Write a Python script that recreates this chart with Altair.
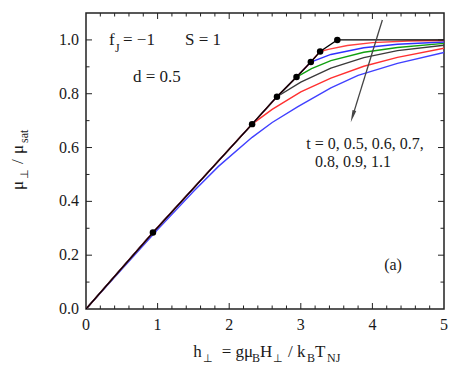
import altair as alt
import pandas as pd

FONT = "Liberation Serif"
INK = "#1a1a1a"

# ---- data ----
# critical points (black dots)
dot_h = [0.935, 2.32, 2.667, 2.94, 3.14, 3.27, 3.51]
dot_mu = [0.284, 0.687, 0.789, 0.862, 0.918, 0.957, 1.0]

# t = 0 curve: through the dots, then saturated
t0_h = [0.0, 0.935, 2.32, 2.667, 2.94, 3.14, 3.27, 3.51, 5.0]
t0_mu = [0.0, 0.284, 0.687, 0.789, 0.862, 0.918, 0.957, 1.0, 1.0]

t05_h = [0.0, 0.935, 2.32, 2.667, 2.94, 3.14, 3.27, 3.4, 3.65, 4.0, 4.5, 5.0]
t05_mu = [0.0, 0.284, 0.687, 0.789, 0.862, 0.918, 0.957, 0.966, 0.979, 0.990, 0.996, 0.998]

t06_h = [0.0, 0.935, 2.32, 2.667, 2.94, 3.14, 3.42, 3.88, 4.35, 5.0]
t06_mu = [0.0, 0.284, 0.687, 0.789, 0.862, 0.918, 0.946, 0.971, 0.984, 0.992]

t07_h = [0.0, 0.935, 2.32, 2.667, 2.94, 3.15, 3.42, 3.88, 4.35, 5.0]
t07_mu = [0.0, 0.284, 0.687, 0.789, 0.862, 0.893, 0.923, 0.954, 0.972, 0.987]

t08_h = [0.0, 0.935, 2.32, 2.667, 3.0, 3.42, 3.88, 4.35, 5.0]
t08_mu = [0.0, 0.284, 0.687, 0.789, 0.843, 0.895, 0.934, 0.960, 0.980]

t09_h = [0.0, 0.935, 2.32, 2.6, 3.0, 3.42, 3.88, 4.35, 5.0]
t09_mu = [0.0, 0.284, 0.687, 0.742, 0.807, 0.858, 0.902, 0.935, 0.969]

t11_h = [0.0, 1.0, 1.5, 1.85, 2.32, 2.6, 2.96, 3.42, 3.8, 4.35, 5.0]
t11_mu = [0.0, 0.295, 0.437, 0.530, 0.638, 0.693, 0.752, 0.822, 0.868, 0.913, 0.953]

curve_names = ["1.1", "0.9", "0.8", "0.7", "0.6", "0.5", "0"]
curve_h = [t11_h, t09_h, t08_h, t07_h, t06_h, t05_h, t0_h]
curve_mu = [t11_mu, t09_mu, t08_mu, t07_mu, t06_mu, t05_mu, t0_mu]
curve_colors = ["#4040ff", "#ff3030", "#3a3a3a", "#10a010", "#3030ff", "#ff4040", "#000000"]

# arrow
arrow_h = [4.139, 3.723]
arrow_mu = [1.074, 0.716]
head_h = [3.723]
head_mu = [0.716]

# axis ticks and labels
x_labels = [0, 1, 2, 3, 4, 5]
x_label_text = ["0", "1", "2", "3", "4", "5"]
y_labels = [0.0, 0.2, 0.4, 0.6, 0.8, 1.0]
y_label_text = ["0.0", "0.2", "0.4", "0.6", "0.8", "1.0"]
x_major = [1, 2, 3, 4]
x_minor = [0.2, 0.4, 0.6, 0.8, 1.2, 1.4, 1.6, 1.8, 2.2, 2.4, 2.6, 2.8,
           3.2, 3.4, 3.6, 3.8, 4.2, 4.4, 4.6, 4.8]
y_major = [0.2, 0.4, 0.6, 0.8, 1.0]
y_minor = [0.1, 0.3, 0.5, 0.7, 0.9]

W, H = 358, 296
xs = alt.Scale(domain=[0, 5], nice=False, zero=False)
ys = alt.Scale(domain=[0, 1.1], nice=False, zero=False)


def X(field="h"):
    return alt.X(f"{field}:Q", scale=xs, axis=None)


def Y(field="mu"):
    return alt.Y(f"{field}:Q", scale=ys, axis=None)


layers = []

# curves
for name, hh, mm, col in zip(curve_names, curve_h, curve_mu, curve_colors):
    df = pd.DataFrame({"h": hh, "mu": mm, "i": range(len(hh))})
    sw = 1.4 if name != "0" else 1.3
    layers.append(
        alt.Chart(df).mark_line(color=col, strokeWidth=sw, clip=True).encode(
            x=X(), y=Y(), order="i:Q")
    )

# dots
dots_df = pd.DataFrame({"h": dot_h, "mu": dot_mu})
layers.append(alt.Chart(dots_df).mark_circle(size=42, color="#000000", opacity=1).encode(x=X(), y=Y()))

# arrow
arr_df = pd.DataFrame({"h": arrow_h, "mu": arrow_mu, "i": [0, 1]})
layers.append(alt.Chart(arr_df).mark_line(color="#444444", strokeWidth=1.3).encode(x=X(), y=Y(), order="i:Q"))
head_df = pd.DataFrame({"h": head_h, "mu": head_mu})
layers.append(alt.Chart(head_df).mark_point(
    shape="M0,-1L0.32,1L-0.32,1Z", size=150, filled=True, color="#444444",
    opacity=1, angle=197.4).encode(x=X(), y=Y()))

# ticks (inward, on all four sides)
tick_col = "#222222"
xmaj = pd.DataFrame({"h": x_major})
xmin = pd.DataFrame({"h": x_minor})
ymaj = pd.DataFrame({"mu": y_major})
ymin = pd.DataFrame({"mu": y_minor})
for df, ln in ((xmaj, 6), (xmin, 3.5)):
    layers.append(alt.Chart(df).mark_rule(color=tick_col, strokeWidth=1).encode(
        x=X(), y=alt.value(H), y2=alt.value(H - ln)))
    layers.append(alt.Chart(df).mark_rule(color=tick_col, strokeWidth=1).encode(
        x=X(), y=alt.value(0), y2=alt.value(ln)))
for df, ln in ((ymaj, 6), (ymin, 3.5)):
    layers.append(alt.Chart(df).mark_rule(color=tick_col, strokeWidth=1).encode(
        y=Y(), x=alt.value(0), x2=alt.value(ln)))
    layers.append(alt.Chart(df).mark_rule(color=tick_col, strokeWidth=1).encode(
        y=Y(), x=alt.value(W), x2=alt.value(W - ln)))

# tick labels
xl_df = pd.DataFrame({"h": x_labels, "s": x_label_text})
layers.append(alt.Chart(xl_df).mark_text(
    font=FONT, fontSize=16, color=INK, align="center", baseline="top", clip=False
).encode(x=X(), y=alt.value(H + 8), text="s:N"))
yl_df = pd.DataFrame({"mu": y_labels, "s": y_label_text})
layers.append(alt.Chart(yl_df).mark_text(
    font=FONT, fontSize=16, color=INK, align="right", baseline="middle", clip=False
).encode(y=Y(), x=alt.value(-7), text="s:N"))


def txt(s, x, y, size=17, angle=0, align="left", baseline="alphabetic"):
    return alt.Chart(alt.Data(values=[{"s": s}])).mark_text(
        x=x, y=y, fontSize=size, font=FONT, align=align, baseline=baseline,
        angle=angle, color=INK).encode(text="s:N")


# annotations
layers += [
    txt("f", 23, 32),
    txt("J", 29, 39, size=12),
    txt("= \u22121", 37, 32),
    txt("S = 1", 99, 32),
    txt("d = 0.5", 47, 68.5),
    txt("t = 0, 0.5, 0.6, 0.7,", 279, 136, size=16, align="center"),
    txt("0.8, 0.9, 1.1", 267, 154, size=16, align="center"),
    txt("(a)", 307, 252, size=16, align="center", baseline="middle"),
]

# x title: h_perp = g mu_B H_perp / k_B T_NJ
xb, xsb = 344, 349
layers += [
    txt("h", 107.3, xb),
    txt("\u22a5", 116.5, xsb, size=11),
    txt("= g\u03bc", 135.7, xb),
    txt("B", 166, xsb, size=12),
    txt("H", 174, xb),
    txt("\u22a5", 186.5, xsb, size=11),
    txt("/ k", 202, xb),
    txt("B", 221, xsb, size=12),
    txt("T", 229, xb),
    txt("NJ", 241, xsb, size=12),
]

# y title: mu_perp / mu_sat (rotated)
yb, ysb = -63, -58
layers += [
    txt("\u03bc", yb, 177, angle=270),
    txt("\u22a5", ysb, 166, size=11, angle=270),
    txt("/", yb, 151, angle=270),
    txt("\u03bc", yb, 141, angle=270),
    txt("sat", ysb, 130, size=12, angle=270),
]

chart = alt.layer(*layers).properties(
    width=W, height=H,
    padding={"left": 78, "top": 5, "right": 5, "bottom": 60},
    autosize=alt.AutoSizeParams(type="none"),
    background="white",
).configure_view(stroke="#222222", strokeWidth=1.5)

chart.save("out.html", embed_options={"renderer": "svg", "actions": False})
